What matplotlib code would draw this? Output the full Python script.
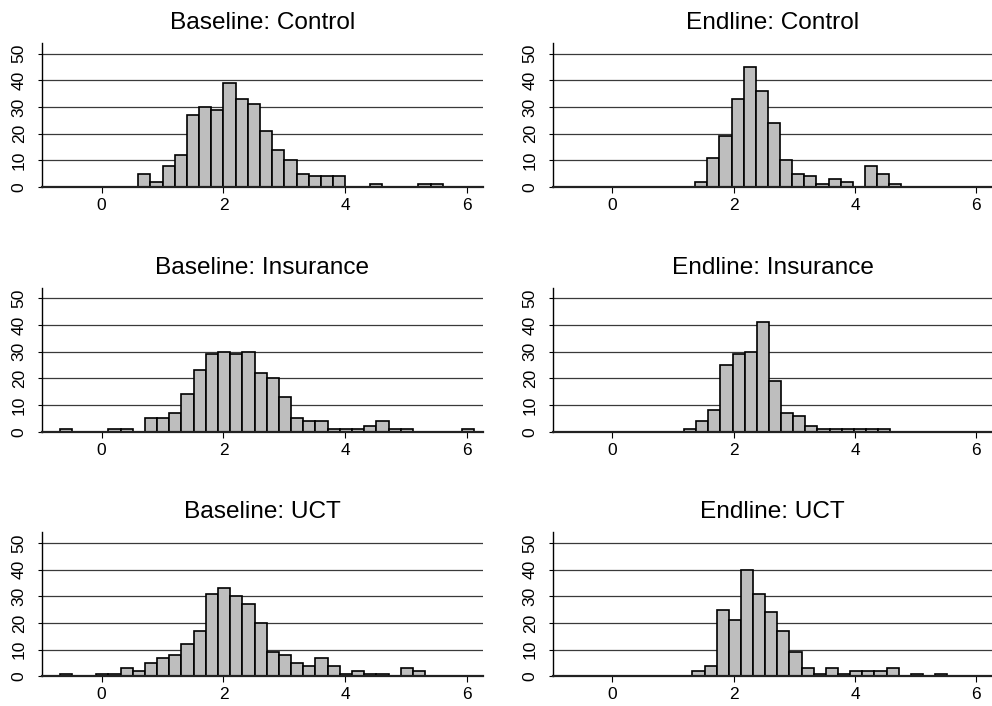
import numpy as np
import matplotlib.pyplot as plt

plt.rcParams['font.family'] = ['Liberation Sans', 'DejaVu Sans']

bin_width = 0.2

# counts per 0.2-wide bin, with the left edge of the first bin
base_control_start = 0.6
base_control = [5, 2, 8, 12, 27, 30, 29, 39, 33, 31, 21, 14, 10, 5, 4, 4, 4,
                0, 0, 1, 0, 0, 0, 1, 1]

end_control_start = 1.365
end_control = [2, 11, 19, 33, 45, 36, 24, 10, 5, 4, 1, 3, 2, 0, 8, 5, 1]

base_ins_start = -0.69
base_ins = [1, 0, 0, 0, 1, 1, 0, 5, 5, 7, 14, 23, 29, 30, 29, 30, 22, 20, 13,
            5, 4, 4, 1, 1, 1, 2, 4, 1, 1, 0, 0, 0, 0, 1]

end_ins_start = 1.18
end_ins = [1, 4, 8, 25, 29, 30, 41, 19, 7, 6, 2, 1, 1, 1, 1, 1, 1]

base_uct_start = -0.69
base_uct = [1, 0, 0, 1, 1, 3, 2, 5, 7, 8, 12, 17, 31, 33, 30, 27, 20, 9, 8,
            5, 4, 7, 4, 1, 2, 1, 1, 0, 3, 2]

end_uct_start = 1.32
end_uct = [2, 4, 25, 21, 40, 31, 24, 17, 9, 3, 1, 3, 1, 2, 2, 2, 3, 0, 1, 0, 1]

panels = [
    ("Baseline: Control", base_control_start, base_control),
    ("Endline: Control", end_control_start, end_control),
    ("Baseline: Insurance", base_ins_start, base_ins),
    ("Endline: Insurance", end_ins_start, end_ins),
    ("Baseline: UCT", base_uct_start, base_uct),
    ("Endline: UCT", end_uct_start, end_uct),
]

xticks = [0, 2, 4, 6]
yticks = [0, 10, 20, 30, 40, 50]

fig = plt.figure(figsize=(9.92, 7.06), dpi=100)

lefts = [0.0423, 0.5575]
widths = [0.4446, 0.4425]
bottoms = [0.7351, 0.3885, 0.0421]
height = 0.204

for i, (title, start, counts) in enumerate(panels):
    row, col = divmod(i, 2)
    ax = fig.add_axes([lefts[col], bottoms[row], widths[col], height])
    counts = np.array(counts)
    edges = start + bin_width * np.arange(len(counts))
    keep = counts > 0
    ax.set_axisbelow(True)
    ax.yaxis.grid(True, color='#3a3a3a', lw=0.9)
    ax.bar(edges[keep], counts[keep], width=bin_width, align='edge',
           color='#bebebe', edgecolor='black', lw=1.2, zorder=2)
    ax.set_xlim(-0.98, 6.26)
    ax.set_ylim(0, 54)
    ax.set_xticks(xticks)
    ax.set_yticks(yticks)
    ax.tick_params(axis='y', labelrotation=90, length=3, width=0.8,
                   labelsize=12.5, pad=8)
    ax.tick_params(axis='x', length=4.5, width=0.8, labelsize=12.5, pad=3.5)
    for lab in ax.get_yticklabels():
        lab.set_va('center')
    ax.spines['top'].set_visible(False)
    ax.spines['right'].set_visible(False)
    ax.spines['left'].set_linewidth(1.0)
    ax.spines['bottom'].set_linewidth(1.6)
    ax.spines['bottom'].set_color('#222222')
    ax.set_title(title, fontsize=17.6, pad=10)

fig.savefig('out.png', dpi=100)
